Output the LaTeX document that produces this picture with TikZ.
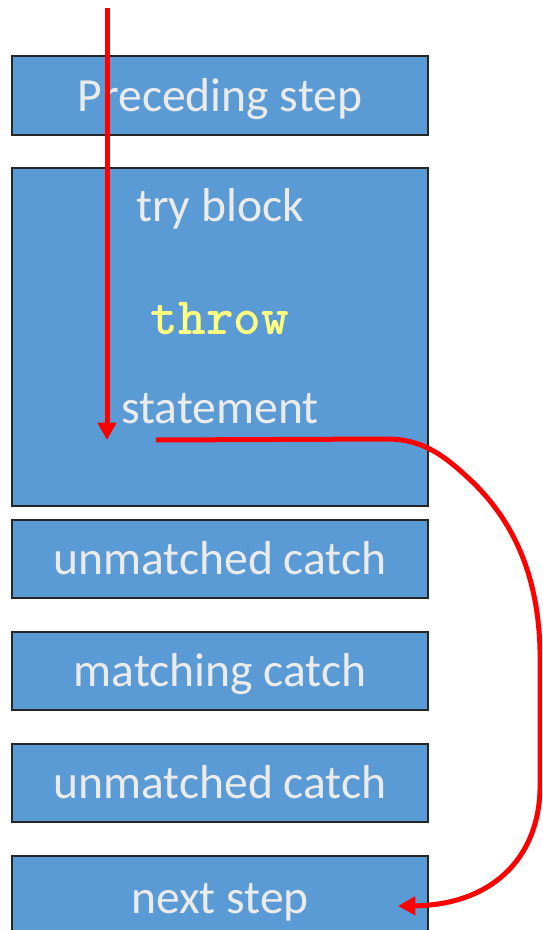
\documentclass[tikz,border=0pt]{standalone}
\usepackage{fontspec}
\setmainfont{Carlito}
\usetikzlibrary{arrows.meta}
\definecolor{boxblue}{HTML}{5B9BD5}
\definecolor{boxtext}{HTML}{EBEBEB}
\definecolor{throwyellow}{HTML}{FFFF80}
\definecolor{flowred}{HTML}{FF0000}
\tikzset{
  blockbox/.style={draw=black!85, line width=1.5pt, fill=boxblue, text=boxtext,
    minimum width=312pt, inner sep=0pt, text height=31.4pt, text depth=7.85pt,
    font=\fontsize{35.7}{42}\selectfont},
  plaintext/.style={inner sep=0pt, anchor=base, text=boxtext, font=\fontsize{35.7}{42}\selectfont},
  flow/.style={draw=flowred, line width=3.75pt, -{Triangle[width=13.5pt,length=13pt]}},
}
\begin{document}
\begin{tikzpicture}[x=0.75pt,y=-0.75pt]
\useasboundingbox (0,0) rectangle (542,930);
\clip (0,0) rectangle (542,930);
\node[blockbox, minimum height=59.25pt] (prec) at (220,95.5) {Preceding step};
\node[blockbox, minimum height=253.5pt] (try) at (220,337) {};
\node[plaintext] (trylabel) at (220,222) {try block};
\node[inner sep=0pt, anchor=base, text=throwyellow, font=\fontsize{39.5}{46}\ttfamily\bfseries] (throw) at (220,334) {throw};
\node[plaintext] (stmt) at (220,423) {statement};
\node[blockbox, minimum height=58.5pt] (um1) at (220,559) {unmatched catch};
\node[blockbox, minimum height=58.5pt] (match) at (220,671) {matching catch};
\node[blockbox, minimum height=58.5pt] (um2) at (220,783) {unmatched catch};
\node[blockbox, minimum height=63pt] (next) at (220,898) {next step};
\coordinate (entry) at (107,8);
\coordinate (halt) at (107,440);
\coordinate (raise) at (156,440);
\coordinate (land) at (398,906);
\draw[flow] (entry) -- (halt);
\draw[flow] (raise) -- (390,439) .. controls (420,440) and (440,452) .. (465,475)
  .. controls (510,515) and (538,570) .. (540,650) -- (540,790)
  .. controls (538,860) and (490,905) .. (land);
\end{tikzpicture}
\end{document}
